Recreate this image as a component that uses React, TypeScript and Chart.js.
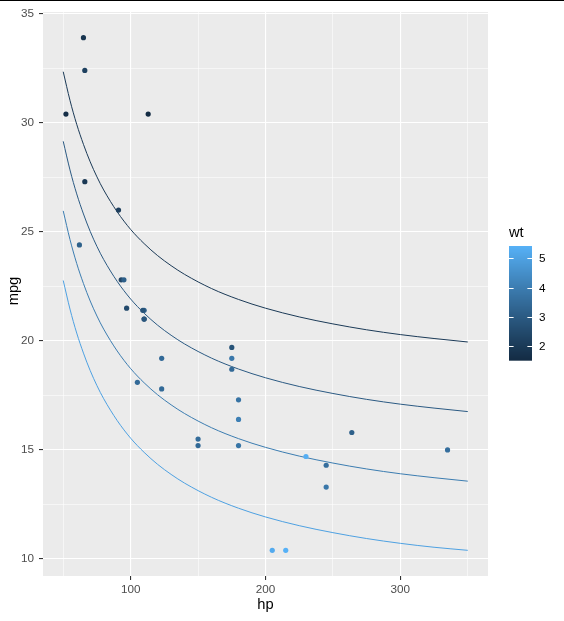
import React, { useEffect, useRef } from "react";
import { Chart, registerables } from "chart.js";
Chart.register(...registerables);

// mtcars: hp, mpg, wt
const carHp = [110, 110, 93, 110, 175, 105, 245, 62, 95, 123, 123, 180, 180, 180, 205, 215, 230, 66, 52, 65, 97, 150, 150, 245, 175, 66, 91, 113, 264, 175, 335, 109];
const carMpg = [21.0, 21.0, 22.8, 21.4, 18.7, 18.1, 14.3, 24.4, 22.8, 19.2, 17.8, 16.4, 17.3, 15.2, 10.4, 10.4, 14.7, 32.4, 30.4, 33.9, 21.5, 15.5, 15.2, 13.3, 19.2, 27.3, 26.0, 30.4, 15.8, 19.7, 15.0, 21.4];
const carWt = [2.62, 2.875, 2.32, 3.215, 3.44, 3.46, 3.57, 3.19, 3.15, 3.44, 3.44, 4.07, 3.73, 3.78, 5.25, 5.424, 5.345, 2.2, 1.615, 1.835, 2.465, 3.52, 3.435, 3.84, 3.845, 1.935, 2.14, 1.513, 3.17, 2.77, 3.57, 2.78];

// fitted curves at wt = 2, 3, 4, 5
const lineHp = [50, 55, 60, 65, 70, 75, 80, 90, 100, 110, 120, 130, 140, 160, 180, 200, 225, 250, 275, 300, 325, 350];
const lineWts = [2, 3, 4, 5];
const lineWt2 = [32.34, 31.03, 29.93, 29.01, 28.21, 27.52, 26.92, 25.92, 25.11, 24.46, 23.91, 23.45, 23.05, 22.4, 21.9, 21.5, 21.1, 20.78, 20.51, 20.29, 20.11, 19.95];
const lineWt3 = [29.15, 27.84, 26.74, 25.82, 25.02, 24.33, 23.73, 22.73, 21.92, 21.27, 20.72, 20.26, 19.86, 19.21, 18.71, 18.31, 17.91, 17.59, 17.32, 17.1, 16.92, 16.76];
const lineWt4 = [25.96, 24.65, 23.55, 22.63, 21.83, 21.14, 20.54, 19.54, 18.73, 18.08, 17.53, 17.07, 16.67, 16.02, 15.52, 15.12, 14.72, 14.4, 14.13, 13.91, 13.73, 13.57];
const lineWt5 = [22.77, 21.46, 20.36, 19.44, 18.64, 17.95, 17.35, 16.35, 15.54, 14.89, 14.34, 13.88, 13.48, 12.83, 12.33, 11.93, 11.53, 11.21, 10.94, 10.72, 10.54, 10.4];
const lineSeries = [lineWt2, lineWt3, lineWt4, lineWt5];

const xTicks = [50, 100, 150, 200, 250, 300, 350];
const yTicks = [10, 12.5, 15, 17.5, 20, 22.5, 25, 27.5, 30, 32.5, 35];
const legendTicks = [2, 3, 4, 5];

const LOW = "#132B43";
const HIGH = "#56B1F7";
const FONT = "'Liberation Sans', Arial, sans-serif";

const Xn = 0.95047, Yn = 1.0, Zn = 1.08883;
function hexToRgb(h: string) {
  return [parseInt(h.slice(1, 3), 16), parseInt(h.slice(3, 5), 16), parseInt(h.slice(5, 7), 16)];
}
function toLin(c: number) {
  c /= 255;
  return c <= 0.04045 ? c / 12.92 : Math.pow((c + 0.055) / 1.055, 2.4);
}
function fromLin(c: number) {
  const v = c <= 0.0031308 ? 12.92 * c : 1.055 * Math.pow(c, 1 / 2.4) - 0.055;
  return Math.round(Math.max(0, Math.min(1, v)) * 255);
}
function fLab(t: number) {
  return t > 0.008856 ? Math.cbrt(t) : 7.787 * t + 16 / 116;
}
function fInv(t: number) {
  return t > 0.206893 ? t * t * t : (t - 16 / 116) / 7.787;
}
function toLab(hex: string) {
  const [r, g, b] = hexToRgb(hex).map(toLin);
  const X = 0.4124 * r + 0.3576 * g + 0.1805 * b;
  const Y = 0.2126 * r + 0.7152 * g + 0.0722 * b;
  const Z = 0.0193 * r + 0.1192 * g + 0.9505 * b;
  const fx = fLab(X / Xn), fy = fLab(Y / Yn), fz = fLab(Z / Zn);
  return [116 * fy - 16, 500 * (fx - fy), 200 * (fy - fz)];
}
function fromLab(L: number, a: number, bb: number) {
  const fy = (L + 16) / 116;
  const fx = fy + a / 500;
  const fz = fy - bb / 200;
  const X = Xn * fInv(fx), Y = Yn * fInv(fy), Z = Zn * fInv(fz);
  const r = 3.2406 * X - 1.5372 * Y - 0.4986 * Z;
  const g = -0.9689 * X + 1.8758 * Y + 0.0415 * Z;
  const b = 0.0557 * X - 0.204 * Y + 1.057 * Z;
  return `rgb(${fromLin(r)},${fromLin(g)},${fromLin(b)})`;
}
const labLow = toLab(LOW);
const labHigh = toLab(HIGH);
const wtMin = Math.min(...carWt);
const wtMax = Math.max(...carWt);
function wtColor(w: number) {
  const t = Math.max(0, Math.min(1, (w - wtMin) / (wtMax - wtMin)));
  return fromLab(
    labLow[0] + (labHigh[0] - labLow[0]) * t,
    labLow[1] + (labHigh[1] - labLow[1]) * t,
    labLow[2] + (labHigh[2] - labLow[2]) * t
  );
}

const decoPlugin = {
  id: "deco",
  beforeDraw(chart: any) {
    const { ctx, chartArea: a } = chart;
    ctx.save();
    ctx.fillStyle = "#EBEBEB";
    ctx.fillRect(a.left, a.top, a.right - a.left, a.bottom - a.top);
    ctx.restore();
  },
  afterDraw(chart: any) {
    const { ctx, chartArea: a } = chart;
    ctx.save();
    // top rule
    ctx.fillStyle = "#000";
    ctx.fillRect(0, 0, chart.width, 1);
    // axis titles
    ctx.fillStyle = "#000";
    ctx.font = `14.7px ${FONT}`;
    ctx.textAlign = "center";
    ctx.textBaseline = "middle";
    ctx.fillText("hp", (a.left + a.right) / 2, 605);
    ctx.save();
    ctx.translate(14, 291);
    ctx.rotate(-Math.PI / 2);
    ctx.fillText("mpg", 0, 0);
    ctx.restore();
    // legend
    const barL = 509, barW = 23, barTop = 246, barBot = 360.7;
    ctx.textAlign = "left";
    ctx.fillText("wt", barL, 233);
    for (let y = barTop; y < barBot; y++) {
      const w = wtMax - ((y + 0.5 - barTop) / (barBot - barTop)) * (wtMax - wtMin);
      ctx.fillStyle = wtColor(w);
      ctx.fillRect(barL, y, barW, Math.min(1, barBot - y));
    }
    ctx.strokeStyle = "#FFFFFF";
    ctx.lineWidth = 1;
    ctx.font = `11.7px ${FONT}`;
    ctx.fillStyle = "#000";
    ctx.textBaseline = "middle";
    for (const v of legendTicks) {
      const y = Math.round(barBot - ((v - wtMin) / (wtMax - wtMin)) * (barBot - barTop)) + 0.5;
      ctx.beginPath();
      ctx.moveTo(barL, y);
      ctx.lineTo(barL + 4.6, y);
      ctx.moveTo(barL + barW - 4.6, y);
      ctx.lineTo(barL + barW, y);
      ctx.stroke();
      ctx.fillText(String(v), 539, y);
    }
    ctx.restore();
  },
};

export default function App() {
  const ref = useRef<HTMLCanvasElement>(null);
  useEffect(() => {
    if (!ref.current) return;
    const pointData = carHp.map((h, i) => ({ x: h, y: carMpg[i] }));
    const datasets: any[] = [
      {
        data: pointData,
        showLine: false,
        pointRadius: 2.6,
        pointBorderWidth: 0,
        pointBackgroundColor: carWt.map(wtColor),
        pointBorderColor: carWt.map(wtColor),
      },
    ];
    lineSeries.forEach((s, k) => {
      datasets.push({
        data: lineHp.map((h, i) => ({ x: h, y: s[i] })),
        showLine: true,
        pointRadius: 0,
        borderWidth: 1,
        borderColor: wtColor(lineWts[k]),
        cubicInterpolationMode: "monotone",
        fill: false,
      });
    });
    const isMajorX = (v: number) => v % 100 === 0;
    const isMajorY = (v: number) => v % 5 === 0;
    const chart = new Chart(ref.current, {
      type: "scatter",
      data: { datasets },
      plugins: [decoPlugin],
      options: {
        responsive: false,
        devicePixelRatio: 1,
        animation: false,
        layout: { padding: { left: 0, right: 76, top: 7, bottom: 0 } },
        plugins: { legend: { display: false }, tooltip: { enabled: false } },
        scales: {
          x: {
            type: "linear",
            min: 35,
            max: 365,
            afterBuildTicks: (s: any) => {
              s.ticks = xTicks.map((v) => ({ value: v }));
            },
            afterFit: (s: any) => {
              s.height = 45;
            },
            border: { display: false },
            grid: {
              color: "#FFFFFF",
              lineWidth: (c: any) => (isMajorX(c.tick.value) ? 1.1 : 0.55),
              tickColor: (c: any) => (isMajorX(c.tick.value) ? "#333333" : "rgba(0,0,0,0)"),
              tickLength: 4,
              drawTicks: true,
            },
            ticks: {
              autoSkip: false,
              maxRotation: 0,
              padding: 3,
              color: "#4D4D4D",
              font: { family: FONT, size: 11.7 },
              callback: (v: any) => (isMajorX(Number(v)) ? String(v) : ""),
            },
          },
          y: {
            type: "linear",
            min: 9.2225,
            max: 35.0775,
            afterBuildTicks: (s: any) => {
              s.ticks = yTicks.map((v) => ({ value: v }));
            },
            afterFit: (s: any) => {
              s.width = 43;
            },
            border: { display: false },
            grid: {
              color: "#FFFFFF",
              lineWidth: (c: any) => (isMajorY(c.tick.value) ? 1.1 : 0.55),
              tickColor: (c: any) => (isMajorY(c.tick.value) ? "#333333" : "rgba(0,0,0,0)"),
              tickLength: 4,
              drawTicks: true,
            },
            ticks: {
              autoSkip: false,
              padding: 5,
              color: "#4D4D4D",
              font: { family: FONT, size: 11.7 },
              callback: (v: any) => (isMajorY(Number(v)) ? String(v) : ""),
            },
          },
        },
      } as any,
    });
    return () => chart.destroy();
  }, []);
  return (
    <div style={{ position: "absolute", left: 0, top: 0, width: 564, height: 621, background: "#FFFFFF" }}>
      <canvas ref={ref} width={564} height={621} style={{ display: "block", width: 564, height: 621 }} />
    </div>
  );
}
